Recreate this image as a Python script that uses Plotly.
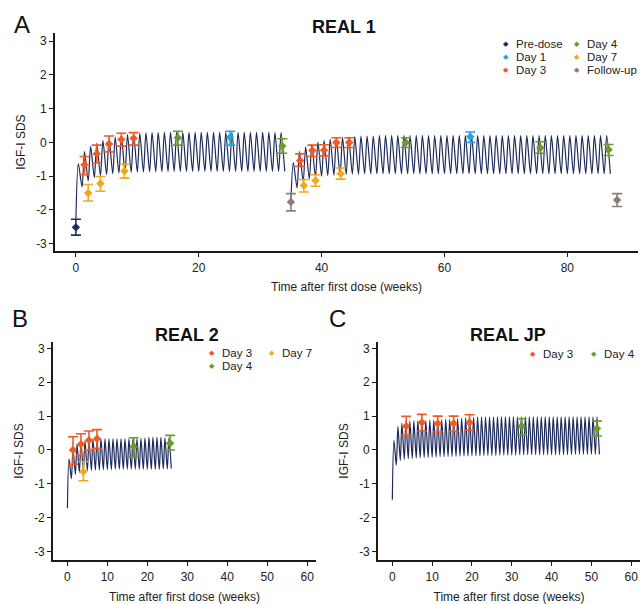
import plotly.graph_objects as go

W, H = 642, 604
FONT = "Liberation Sans, Arial, sans-serif"
TXT = "#222222"

NAVY = "#1f2a5c"
COLORS = {
    "Pre-dose": "#1f2d64",
    "Day 1": "#27a3dd",
    "Day 3": "#ef5b25",
    "Day 4": "#6d9a2d",
    "Day 7": "#f2a818",
    "Follow-up": "#8c7e77",
}

# ---------------- model-predicted IGF-I SDS (weekly dosing) ----------------
# value just before each weekly dose (trough) and the post-dose peak of that week
A1_start = 0
A1_trough = [-2.30, -1.32, -1.14, -1.04, -0.98, -0.95, -0.93, -0.91, -0.90, -0.89,
             -0.88, -0.88, -0.87, -0.87, -0.87, -0.86, -0.86, -0.86, -0.86, -0.86,
             -0.86, -0.86, -0.86, -0.86, -0.86, -0.86, -0.86, -0.86, -0.86, -0.86,
             -0.86, -0.86, -0.86, -0.86]
A1_peak = [-0.63, -0.27, -0.12, -0.03, 0.05, 0.11, 0.16, 0.20, 0.23, 0.25,
           0.27, 0.28, 0.29, 0.29, 0.30, 0.30, 0.30, 0.30, 0.30, 0.30,
           0.30, 0.30, 0.30, 0.30, 0.30, 0.30, 0.30, 0.30, 0.30, 0.30,
           0.30, 0.30, 0.29, 0.29]
A1_end = -0.86

A2_start = 35
A2_trough = [-1.70, -1.35, -1.16, -1.08, -1.03, -1.00, -0.98, -0.97, -0.96, -0.95,
             -0.94, -0.94, -0.93, -0.93, -0.93, -0.93, -0.93, -0.93, -0.93, -0.93,
             -0.93, -0.93, -0.93, -0.93, -0.93, -0.93, -0.93, -0.93, -0.93, -0.93,
             -0.93, -0.93, -0.93, -0.93, -0.93, -0.93, -0.93, -0.93, -0.93, -0.93,
             -0.93, -0.93, -0.93, -0.93, -0.93, -0.93, -0.93, -0.93, -0.93, -0.93,
             -0.93, -0.93]
A2_peak = [-0.60, -0.27, -0.14, -0.06, 0.00, 0.05, 0.09, 0.12, 0.14, 0.16,
           0.17, 0.18, 0.19, 0.19, 0.20, 0.20, 0.20, 0.20, 0.20, 0.20,
           0.20, 0.20, 0.20, 0.20, 0.20, 0.20, 0.20, 0.20, 0.20, 0.20,
           0.20, 0.20, 0.20, 0.20, 0.20, 0.20, 0.20, 0.20, 0.20, 0.20,
           0.20, 0.20, 0.20, 0.20, 0.20, 0.20, 0.20, 0.20, 0.20, 0.20,
           0.20, 0.20]
A2_end = -0.93

B_start = 0
B_trough = [-1.72, -0.85, -0.72, -0.66, -0.63, -0.61, -0.60, -0.59, -0.59, -0.58,
            -0.58, -0.58, -0.57, -0.57, -0.57, -0.57, -0.57, -0.57, -0.57, -0.57,
            -0.57, -0.57, -0.57, -0.57, -0.56, -0.56]
B_peak = [-0.26, 0.04, 0.18, 0.24, 0.27, 0.29, 0.31, 0.32, 0.33, 0.33,
          0.33, 0.33, 0.33, 0.33, 0.33, 0.33, 0.33, 0.33, 0.34, 0.35,
          0.37, 0.37, 0.37, 0.37, 0.36, 0.35]
B_end = -0.55

C_start = 0
C_trough = [-1.47, -0.45, -0.31, -0.28, -0.26, -0.25, -0.24, -0.23, -0.22, -0.22,
            -0.21, -0.21, -0.20, -0.20, -0.19, -0.19, -0.19, -0.18, -0.18, -0.18,
            -0.17, -0.17, -0.17, -0.16, -0.16, -0.16, -0.16, -0.15, -0.15, -0.15,
            -0.15, -0.15, -0.14, -0.14, -0.14, -0.14, -0.14, -0.14, -0.14, -0.14,
            -0.14, -0.14, -0.14, -0.14, -0.14, -0.14, -0.13, -0.13, -0.13, -0.13,
            -0.13, -0.13]
C_peak = [0.28, 0.70, 0.79, 0.83, 0.85, 0.86, 0.86, 0.87, 0.87, 0.88,
          0.88, 0.89, 0.89, 0.90, 0.90, 0.91, 0.92, 0.93, 0.94, 0.95,
          0.96, 0.97, 0.97, 0.97, 0.97, 0.97, 0.98, 0.98, 0.98, 0.98,
          0.98, 0.98, 0.98, 0.98, 0.98, 0.98, 0.98, 0.98, 0.98, 0.98,
          0.98, 0.98, 0.98, 0.98, 0.98, 0.98, 0.98, 0.98, 0.98, 0.98,
          0.98, 0.98]
C_end = -0.13

# ---------------- observed IGF-I SDS: mean with lower / upper bar ----------------
A_obs = {
    "Pre-dose": dict(t=[0.0], y=[-2.52], lo=[-2.75], hi=[-2.28]),
    "Day 1": dict(t=[25.1, 64.2], y=[0.15, 0.17], lo=[-0.08, 0.00], hi=[0.33, 0.31]),
    "Day 3": dict(t=[1.4, 3.4, 5.4, 7.4, 9.4, 36.5, 38.5, 40.4, 42.4, 44.5],
                  y=[-0.66, -0.34, -0.05, 0.09, 0.12, -0.54, -0.24, -0.23, 0.00, 0.00],
                  lo=[-0.96, -0.61, -0.28, -0.11, -0.08, -0.71, -0.42, -0.40, -0.15, -0.15],
                  hi=[-0.42, -0.08, 0.19, 0.27, 0.29, -0.34, -0.08, -0.07, 0.14, 0.14]),
    "Day 4": dict(t=[16.6, 33.6, 53.7, 75.6, 86.7],
                  y=[0.14, -0.11, 0.00, -0.16, -0.22],
                  lo=[-0.08, -0.32, -0.15, -0.32, -0.39],
                  hi=[0.33, 0.11, 0.14, 0.02, -0.06]),
    "Day 7": dict(t=[2.0, 4.0, 7.9, 37.1, 39.0, 43.1],
                  y=[-1.50, -1.22, -0.85, -1.28, -1.13, -0.93],
                  lo=[-1.74, -1.45, -1.06, -1.47, -1.30, -1.09],
                  hi=[-1.25, -1.01, -0.65, -1.10, -0.96, -0.76]),
    "Follow-up": dict(t=[35.0, 88.1], y=[-1.77, -1.71], lo=[-2.03, -1.90], hi=[-1.52, -1.52]),
}
B_obs = {
    "Day 3": dict(t=[1.4, 3.4, 5.4, 7.4], y=[0.00, 0.17, 0.29, 0.33],
                  lo=[-0.42, -0.16, 0.00, 0.04], hi=[0.39, 0.48, 0.56, 0.60]),
    "Day 4": dict(t=[16.6, 25.7], y=[0.10, 0.20], lo=[-0.20, 0.00], hi=[0.36, 0.43]),
    "Day 7": dict(t=[4.0], y=[-0.64], lo=[-0.91], hi=[-0.35]),
}
C_obs = {
    "Day 3": dict(t=[3.5, 7.4, 11.4, 15.4, 19.4], y=[0.70, 0.81, 0.78, 0.78, 0.81],
                  lo=[0.43, 0.56, 0.53, 0.55, 0.58], hi=[0.99, 1.05, 1.00, 1.00, 1.04]),
    "Day 4": dict(t=[32.5, 51.4], y=[0.70, 0.63], lo=[0.45, 0.41], hi=[0.92, 0.85]),
}

Y_TICKS = [-3, -2, -1, 0, 1, 2, 3]
Y_TICKTEXT = ["-3", "-2", "-1", "0", "1", "2", "3"]
A_XTICKS = [0, 20, 40, 60, 80]
BC_XTICKS = [0, 10, 20, 30, 40, 50, 60]

PANELS = [("A", "REAL 1"), ("B", "REAL 2"), ("C", "REAL JP")]
X_TITLE = "Time after first dose (weeks)"
Y_TITLE = "IGF-I SDS"


def weekly_curve(start, trough, peak, end, rise=0.4):
    xs, ys = [], []
    for k, (lo, hi) in enumerate(zip(trough, peak)):
        xs += [start + k, start + k + rise]
        ys += [lo, hi]
    xs.append(start + len(trough))
    ys.append(end)
    return xs, ys


fig = go.Figure()


def add_curve(start, trough, peak, end, xa, ya):
    xs, ys = weekly_curve(start, trough, peak, end)
    fig.add_trace(go.Scatter(x=xs, y=ys, mode="lines", xaxis=xa, yaxis=ya,
                             line=dict(color=NAVY, width=1.2, shape="spline", smoothing=0.8),
                             showlegend=False, hoverinfo="skip"))


def add_obs(obs, xa, ya):
    for name, d in obs.items():
        col = COLORS[name]
        fig.add_trace(go.Scatter(
            x=d["t"], y=d["y"], mode="markers", name=name, xaxis=xa, yaxis=ya,
            marker=dict(symbol="diamond", size=6.5, color=col),
            error_y=dict(type="data", symmetric=False,
                         array=[h - m for h, m in zip(d["hi"], d["y"])],
                         arrayminus=[m - l for m, l in zip(d["y"], d["lo"])],
                         color=col, thickness=1.6, width=5),
            showlegend=False))


add_curve(A1_start, A1_trough, A1_peak, A1_end, "x", "y")
add_curve(A2_start, A2_trough, A2_peak, A2_end, "x", "y")
add_obs(A_obs, "x", "y")
add_curve(B_start, B_trough, B_peak, B_end, "x2", "y2")
add_obs(B_obs, "x2", "y2")
add_curve(C_start, C_trough, C_peak, C_end, "x3", "y3")
add_obs(C_obs, "x3", "y3")


def px_x(p):
    return p / W


def px_y(p):
    return 1 - p / H


axis_common = dict(showline=True, linecolor="#1a1a1a", linewidth=1.6, ticks="outside",
                   ticklen=4, tickwidth=1.2, tickcolor="#1a1a1a", showgrid=False,
                   zeroline=False, tickfont=dict(family=FONT, size=12, color=TXT),
                   title_font=dict(family=FONT, size=12, color=TXT))

fig.update_layout(
    width=W, height=H, margin=dict(l=0, r=0, t=0, b=0),
    paper_bgcolor="white", plot_bgcolor="white", showlegend=False,
    xaxis=dict(domain=[px_x(55), px_x(638)], range=[-3.4, 91.5], anchor="y",
               tickvals=A_XTICKS, title=dict(text=X_TITLE, standoff=9), **axis_common),
    yaxis=dict(domain=[px_y(254), px_y(33)], range=[-3.235, 3.255], anchor="x",
               tickvals=Y_TICKS, ticktext=Y_TICKTEXT,
               title=dict(text=Y_TITLE, standoff=8), **axis_common),
    xaxis2=dict(domain=[px_x(53), px_x(316)], range=[-3.6, 62.2], anchor="y2",
                tickvals=BC_XTICKS, title=dict(text=X_TITLE, standoff=12), **axis_common),
    yaxis2=dict(domain=[px_y(566), px_y(345)], range=[-3.26, 3.2], anchor="x2",
                tickvals=Y_TICKS, ticktext=Y_TICKTEXT,
                title=dict(text=Y_TITLE, standoff=8), **axis_common),
    xaxis3=dict(domain=[px_x(378), px_x(640)], range=[-3.6, 62.2], anchor="y3",
                tickvals=BC_XTICKS, title=dict(text=X_TITLE, standoff=12), **axis_common),
    yaxis3=dict(domain=[px_y(566), px_y(345)], range=[-3.26, 3.2], anchor="x3",
                tickvals=Y_TICKS, ticktext=Y_TICKTEXT,
                title=dict(text=Y_TITLE, standoff=8), **axis_common),
)

ann = []
# panel letters and titles
letter_pos = [(22, 25), (19.5, 322), (337.5, 322)]
title_pos = [(344, 27), (186.5, 338.5), (508, 338.5)]
for (letter, title), (lx, ly), (tx, ty) in zip(PANELS, letter_pos, title_pos):
    ann.append(dict(text=letter, x=px_x(lx), y=px_y(ly), xref="paper", yref="paper",
                    xanchor="center", yanchor="middle", showarrow=False,
                    font=dict(family=FONT, size=24, color="#111111")))
    ann.append(dict(text="<b>%s</b>" % title, x=px_x(tx), y=px_y(ty), xref="paper",
                    yref="paper", xanchor="center", yanchor="middle", showarrow=False,
                    font=dict(family=FONT, size=18, color="#111111")))

# legend keys: (name, marker x, text x, row y)
legend_keys = [
    ("Pre-dose", 506, 515, 44.5), ("Day 1", 506, 515, 57.5), ("Day 3", 506, 515, 70.5),
    ("Day 4", 577, 586, 44.5), ("Day 7", 577, 586, 57.5), ("Follow-up", 577, 586, 70.5),
    ("Day 3", 212, 221, 357), ("Day 7", 272, 281, 357), ("Day 4", 212, 221, 370),
    ("Day 3", 533, 542, 358), ("Day 4", 594, 603, 358),
]
for name, mx, tx, ry in legend_keys:
    ann.append(dict(text="\u25c6", x=px_x(mx), y=px_y(ry), xref="paper", yref="paper",
                    xanchor="center", yanchor="middle", showarrow=False, borderpad=0,
                    font=dict(family="DejaVu Sans", size=7, color=COLORS[name])))
    ann.append(dict(text=name, x=px_x(tx), y=px_y(ry), xref="paper", yref="paper",
                    xanchor="left", yanchor="middle", showarrow=False, borderpad=0,
                    font=dict(family=FONT, size=11.5, color=TXT)))

fig.update_layout(annotations=ann)
fig.write_html("out.html")
